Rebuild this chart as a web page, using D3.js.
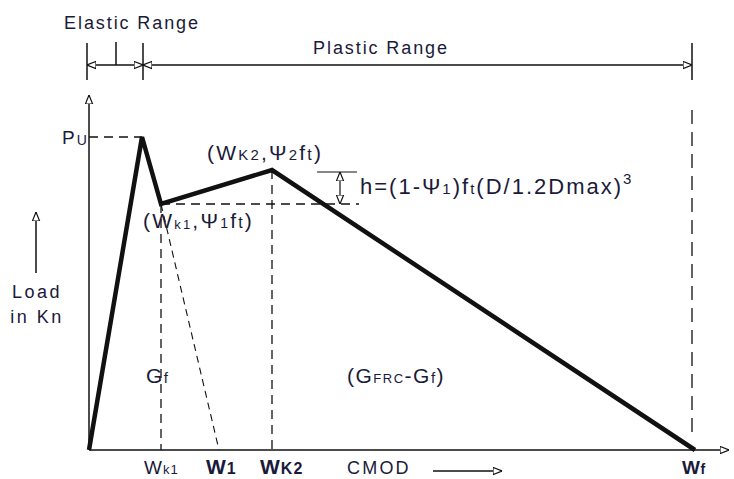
<!DOCTYPE html>
<html>
<head>
<meta charset="utf-8">
<script src="https://cdn.jsdelivr.net/npm/d3@7"></script>
<style>
  body { margin: 0; background: #fff; }
  text { font-family: "Liberation Sans", Arial, sans-serif; fill: #1a1a3a; }
</style>
</head>
<body>
<div id="chart"></div>
<script>
// key points of the load / CMOD curve (arbitrary units)
const pointNames = ["O", "Pu", "Wk1", "Wk2", "Wf"];
const cmod = [0, 53, 72, 183, 606];
const load = [0, 313, 246, 280, 0];
// linear elastic softening ends at W1
const w1 = 130;

const width = 734, height = 479;
const margin = { top: 95, right: 5, bottom: 29, left: 89 };

const svg = d3.select("#chart").append("svg")
  .attr("width", width).attr("height", height);

const x = d3.scaleLinear().domain([0, 640]).range([margin.left, width - margin.right]);
const y = d3.scaleLinear().domain([0, 355]).range([height - margin.bottom, margin.top]);

const pts = cmod.map((c, i) => ({ name: pointNames[i], c, l: load[i] }));
const P = Object.fromEntries(pts.map(d => [d.name, d]));

// open triangle arrowheads
const defs = svg.append("defs");
defs.append("marker").attr("id", "tri").attr("viewBox", "0 0 10 10")
  .attr("refX", 10).attr("refY", 5).attr("markerWidth", 9).attr("markerHeight", 9)
  .attr("markerUnits", "userSpaceOnUse").attr("orient", "auto-start-reverse")
  .append("path").attr("d", "M0,1L10,5L0,9Z").attr("fill", "#fff").attr("stroke", "#111").attr("stroke-width", 1.3);

const ink = "#111";

// axes
svg.append("line").attr("x1", x(0)).attr("x2", x(0)).attr("y1", y(0)).attr("y2", y(355))
  .attr("stroke", ink).attr("stroke-width", 1.5).attr("marker-end", "url(#tri)");
svg.append("line").attr("x1", x(0)).attr("x2", x(640)).attr("y1", y(0)).attr("y2", y(0))
  .attr("stroke", ink).attr("stroke-width", 1.5).attr("marker-end", "url(#tri)");

const dash = (x1, y1, x2, y2, w = 1.3, da = "9,6") =>
  svg.append("line").attr("x1", x1).attr("y1", y1).attr("x2", x2).attr("y2", y2)
    .attr("stroke", ink).attr("stroke-width", w).attr("stroke-dasharray", da);

// guide lines
dash(x(0), y(P.Pu.l), x(P.Pu.c), y(P.Pu.l));
dash(x(P.Wk1.c), y(P.Wk1.l), x(P.Wk1.c), y(0));
dash(x(P.Wk2.c), y(P.Wk2.l), x(P.Wk2.c), y(0));
dash(x(P.Wk1.c), y(P.Wk1.l), x(270), y(P.Wk1.l));
dash(x(P.Wk1.c), y(P.Wk1.l), x(w1), y(0), 1.1, "7,5");
dash(x(P.Wf.c) - 3, y(340), x(P.Wf.c) - 3, y(12), 1.3, "14,8");

// h dimension
svg.append("line").attr("x1", x(228)).attr("x2", x(268)).attr("y1", y(P.Wk2.l) + 2).attr("y2", y(P.Wk2.l) + 2)
  .attr("stroke", ink).attr("stroke-width", 1.2);
svg.append("line").attr("x1", x(251)).attr("x2", x(251)).attr("y1", y(P.Wk2.l) + 2).attr("y2", y(P.Wk1.l))
  .attr("stroke", ink).attr("stroke-width", 1.2)
  .attr("marker-start", "url(#tri)").attr("marker-end", "url(#tri)");

// the curve
svg.append("path").datum(pts)
  .attr("d", d3.line().x(d => x(d.c)).y(d => y(d.l)))
  .attr("fill", "none").attr("stroke", ink).attr("stroke-width", 4.5).attr("stroke-linejoin", "miter");

// range dimension line on top
const dimY = 65;
[[x(0) - 2, 43, 80], [x(27), 42, 65], [x(P.Pu.c) + 1, 43, 80], [x(P.Wf.c) - 3, 43, 80]].forEach(([xx, a, b]) =>
  svg.append("line").attr("x1", xx).attr("x2", xx).attr("y1", a).attr("y2", b).attr("stroke", ink).attr("stroke-width", 1.5));
svg.append("line").attr("x1", x(P.Pu.c) + 1).attr("x2", x(0) - 2).attr("y1", dimY).attr("y2", dimY)
  .attr("stroke", ink).attr("stroke-width", 1.3).attr("marker-end", "url(#tri)").attr("marker-start", "url(#tri)");
svg.append("line").attr("x1", x(P.Pu.c) + 1).attr("x2", x(P.Wf.c) - 3).attr("y1", dimY).attr("y2", dimY)
  .attr("stroke", ink).attr("stroke-width", 1.3).attr("marker-end", "url(#tri)").attr("marker-start", "url(#tri)");

// text helper: parts = [[text, size, dy]]
const label = (tx, ty, parts, anchor = "start", base = 18, ls = 1.8, weight = "normal") => {
  const t = svg.append("text").attr("x", tx).attr("y", ty).attr("text-anchor", anchor)
    .attr("font-size", base).attr("letter-spacing", ls).attr("font-weight", weight);
  parts.forEach(([s, fs, dy]) => t.append("tspan").attr("font-size", fs || base).attr("dy", dy || 0).text(s));
  return t;
};

label(132, 29, [["Elastic Range"]], "middle", 18, 1.9);
label(381, 54, [["Plastic Range"]], "middle", 18, 1.9);

label(62, 144, [["P", 19], ["U", 14, 1]], "start", 18, 2);
label(207, 160, [["(W", 21], ["K2", 15], [",Ψ", 21], ["2", 15], ["f", 21], ["t", 16], [")", 21]], "start", 18, 2.2);
label(143, 228, [["(W", 21], ["k1", 13, 1], [",Ψ", 21, -1], ["1", 14], ["f", 21], ["t", 16], [")", 21]], "start", 18, 2.2);
label(360, 194, [["h=(1-Ψ", 22], ["1", 15], [")f", 22], ["t", 15], ["(D/1.2Dmax)", 22], ["3", 15, -10]], "start", 18, 2);

// y axis caption
svg.append("line").attr("x1", 36).attr("x2", 36).attr("y1", 273).attr("y2", 212)
  .attr("stroke", ink).attr("stroke-width", 1.5).attr("marker-end", "url(#tri)");
label(37, 298, [["Load"]], "middle", 18, 2.5);
label(37, 323, [["in Kn"]], "middle", 18, 2.5);

// energy labels
label(146, 383, [["G", 21], ["f", 15]], "start", 18, 1.5);
label(347, 383, [["(G", 21], ["FRC", 13], ["-G", 21], ["f", 15], [")", 21]], "start", 18, 1.5);

// x axis labels
label(144, 474, [["W", 19], ["k1", 13]], "start", 18, 1);
label(206, 474, [["W", 21], ["1", 16]], "start", 18, 1, "bold");
label(260, 474, [["W", 21], ["K2", 16]], "start", 18, 1, "bold");
label(347, 474, [["CMOD", 18]], "start", 18, 2.2);
label(682, 474, [["W", 19], ["f", 14]], "start", 18, 0.5, "bold");
svg.append("line").attr("x1", 433).attr("x2", 502).attr("y1", 471).attr("y2", 471)
  .attr("stroke", ink).attr("stroke-width", 1.3).attr("marker-end", "url(#tri)");
</script>
</body>
</html>
